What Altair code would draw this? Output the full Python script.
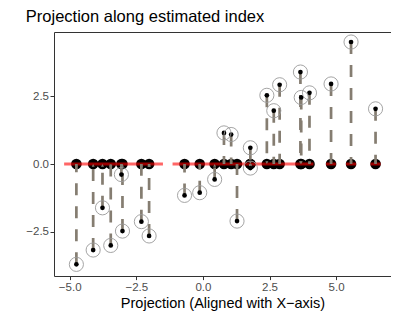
import altair as alt
import pandas as pd

# Projected positions (x) and observed values (y)
proj_x = [-4.75, -4.12, -3.77, -3.46, -3.06, -3.02, -2.31, -2.02,
          -0.69, -0.12, 0.44, 0.79, 1.06, 1.28, 1.78, 1.78,
          2.40, 2.66, 2.88, 3.66, 3.69, 4.00, 4.81, 5.56, 6.48]
obs_y = [-3.71, -3.18, -1.62, -3.01, -0.39, -2.48, -2.13, -2.66,
         -1.16, -1.06, -0.57, 1.15, 1.09, -2.11, 0.60, -0.15,
         2.54, 1.97, 2.93, 3.40, 2.46, 2.63, 2.96, 4.51, 2.04]

# Estimated index line (red) pieces
red_start = [-5.21, -1.14, 4.62, 5.37, 6.29]
red_end = [-1.50, 4.15, 4.99, 5.75, 6.67]

x_ticks = [-5.0, -2.5, 0.0, 2.5, 5.0]
y_ticks = [-2.5, 0.0, 2.5]

df = pd.DataFrame({"x": proj_x, "y": obs_y})
df["zero"] = 0.0
df["dir"] = ["up" if v < 0 else "down" for v in obs_y]
red_df = pd.DataFrame({"x0": red_start, "x1": red_end, "zero": 0.0})

FONT = "Liberation Sans"
GRAY = "#857d71"

xs = alt.Scale(domain=[-5.59, 7.06], nice=False, zero=False)
ys = alt.Scale(domain=[-4.14, 4.88], nice=False, zero=False)

xaxis = alt.Axis(values=x_ticks, format=".1f", title="Projection (Aligned with X\u2212axis)",
                 grid=False, domain=False, tickColor="#333333", tickSize=3.6,
                 labelColor="#4d4d4d", labelFontSize=11.5, labelFont=FONT, labelPadding=2,
                 titleFont=FONT, titleFontSize=14.5, titleFontWeight="normal",
                 titleColor="black", titlePadding=3.5)
yaxis = alt.Axis(values=y_ticks, format=".1f", title=None, grid=False, domain=False,
                 tickColor="#333333", tickSize=4, labelColor="#4d4d4d",
                 labelFontSize=11.5, labelFont=FONT, labelPadding=1.5)

base = alt.Chart(df)

base_pts = base.mark_circle(size=113, color="black", opacity=1).encode(
    x=alt.X("x:Q", scale=xs, axis=xaxis),
    y=alt.Y("zero:Q", scale=ys, axis=yaxis),
)

red = alt.Chart(red_df).mark_rule(color="#ff0000", opacity=0.6, strokeWidth=3).encode(
    x=alt.X("x0:Q", scale=xs),
    x2="x1:Q",
    y=alt.Y("zero:Q", scale=ys),
)

segs = base.mark_rule(color=GRAY, strokeWidth=2.7, strokeDash=[12, 11]).encode(
    x=alt.X("x:Q", scale=xs),
    y=alt.Y("y:Q", scale=ys),
    y2="zero:Q",
)

arrows = base.mark_point(filled=True, color=GRAY, opacity=1, size=25).encode(
    x=alt.X("x:Q", scale=xs),
    y=alt.Y("zero:Q", scale=ys),
    shape=alt.Shape("dir:N", scale=alt.Scale(
        domain=["up", "down"],
        range=["M0,0L-0.6,1.1L0.6,1.1Z", "M0,0L-0.6,-1.1L0.6,-1.1Z"]), legend=None),
)

dots = base.mark_circle(size=22, color="black", opacity=1).encode(
    x=alt.X("x:Q", scale=xs),
    y=alt.Y("y:Q", scale=ys),
)

rings = base.mark_point(shape="circle", size=200, filled=False, color="#9a9a9a",
                        strokeWidth=0.9, opacity=1).encode(
    x=alt.X("x:Q", scale=xs),
    y=alt.Y("y:Q", scale=ys),
)

chart = alt.layer(base_pts, red, segs, arrows, dots, rings).properties(
    width=337, height=244,
    autosize="none",
    padding={"left": 46, "top": 24, "right": 0, "bottom": 40},
    title=alt.TitleParams("Projection along estimated index", anchor="start",
                          font=FONT, fontSize=16.5, fontWeight="normal", color="black",
                          offset=6.5),
).configure(background="white").configure_view(stroke="#333333", strokeWidth=1)

chart.save("out.html", embed_options={"renderer": "svg", "actions": False})
